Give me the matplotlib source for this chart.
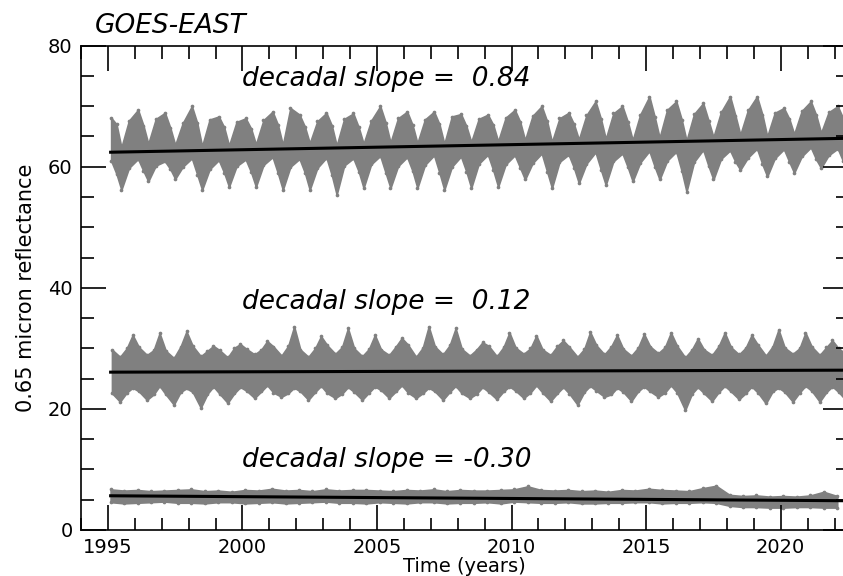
import numpy as np
import matplotlib
matplotlib.use('Agg')
import matplotlib.pyplot as plt
from matplotlib.ticker import MultipleLocator

years = np.arange(1995, 2023)

# upper band (~63): winter peaks, summer troughs
top_peak_hi = [68.1, 69.4, 68.9, 70.0, 68.3, 68.0, 69.1, 68.6, 68.9, 68.8, 70.0, 69.1, 69.1, 68.7,
               68.6, 69.4, 70.0, 68.9, 70.8, 70.0, 71.6, 70.8, 70.5, 71.6, 71.6, 69.7, 70.8, 70.0]
top_peak_lo = [61.0, 61.3, 60.9, 61.4, 61.1, 61.2, 61.6, 61.3, 61.5, 61.4, 61.8, 61.6, 61.9, 61.7,
               62.0, 61.9, 62.2, 62.0, 62.4, 62.2, 62.6, 62.5, 62.8, 62.7, 63.0, 62.9, 63.2, 63.0]
top_fall_hi = [67.0, 66.8, 66.4, 67.2, 66.5, 66.3, 66.9, 66.6, 66.8, 66.5, 67.3, 66.9, 67.0, 66.7,
               66.9, 67.4, 67.5, 67.0, 67.9, 67.4, 68.2, 67.8, 67.6, 68.4, 68.6, 67.9, 68.5, 68.0]
top_fall_lo = [58.8, 59.3, 59.6, 58.7, 59.0, 59.1, 58.9, 59.0, 58.6, 59.2, 59.0, 59.3, 59.0, 59.2,
               59.4, 59.8, 59.2, 59.8, 59.5, 59.9, 60.0, 59.3, 60.1, 60.8, 60.4, 60.8, 61.2, 60.9]
top_trough_hi = [63.2, 63.8, 63.6, 63.4, 63.5, 63.7, 63.6, 63.9, 63.5, 63.8, 64.0, 63.9, 63.8, 64.1,
                 64.2, 64.4, 64.1, 64.5, 64.6, 64.4, 64.8, 64.3, 64.9, 65.3, 65.0, 65.4, 65.6]
top_trough_lo = [56.2, 57.6, 58.0, 56.2, 56.7, 56.7, 56.2, 56.2, 55.4, 56.5, 56.5, 56.5, 56.2, 56.5,
                 56.7, 57.9, 56.5, 57.3, 57.0, 57.6, 57.9, 55.9, 57.9, 59.5, 58.4, 59.0, 59.8]
top_rise_hi = [67.6, 67.9, 67.2, 67.8, 67.4, 67.7, 69.7, 67.5, 67.9, 67.6, 68.0, 67.8, 68.3, 67.9,
               68.1, 68.4, 68.0, 68.5, 68.8, 68.6, 69.4, 68.7, 69.0, 69.3, 68.9, 69.2, 69.0]
top_rise_lo = [59.8, 60.2, 60.0, 59.6, 60.1, 60.3, 60.0, 59.8, 60.2, 60.4, 60.1, 60.3, 60.0, 60.5,
               60.4, 60.6, 60.8, 60.5, 60.9, 60.7, 61.0, 60.8, 61.3, 61.5, 61.4, 61.7, 61.9]

# middle band (~26)
mid_a_hi = [29.8, 30.2, 29.6, 30.4, 29.7, 29.9, 30.3, 29.8, 30.5, 30.0, 29.8, 30.6, 30.3, 29.9,
            30.4, 30.1, 29.8, 30.2, 30.5, 29.9, 30.3, 30.4, 29.8, 30.2, 30.6, 30.1, 30.3, 30.0]
mid_a_lo = [22.6, 22.9, 22.4, 22.8, 22.5, 23.0, 22.7, 22.9, 22.6, 22.8, 23.1, 22.7, 22.9, 22.6,
            22.8, 23.0, 22.7, 22.5, 23.0, 22.8, 22.9, 22.7, 22.6, 22.9, 22.7, 22.8, 23.0, 22.8]
mid_trough_hi = [28.6, 28.9, 28.4, 28.7, 28.5, 29.0, 28.8, 28.6, 29.1, 28.7, 28.9, 28.6, 29.0, 28.8,
                 28.7, 29.1, 28.9, 28.6, 29.0, 28.8, 29.2, 28.5, 28.9, 29.0, 28.8, 29.1, 28.9, 29.0]
mid_trough_lo = [21.2, 21.5, 20.7, 20.2, 21.0, 21.8, 22.0, 21.5, 21.8, 21.5, 21.8, 21.8, 21.5, 21.8,
                 21.6, 21.8, 21.3, 20.7, 22.0, 21.3, 22.0, 19.8, 21.3, 21.6, 20.9, 21.2, 21.2, 21.3]
mid_b_hi = [30.0, 29.7, 30.3, 29.6, 30.1, 29.8, 30.4, 30.0, 30.2, 29.9, 30.3, 30.1, 30.5, 29.8,
            30.2, 30.0, 30.4, 29.9, 30.3, 30.1, 30.2, 29.8, 30.4, 30.1, 30.3, 30.0, 30.2]
mid_b_lo = [22.7, 22.4, 22.8, 22.5, 22.6, 22.9, 22.6, 22.8, 22.5, 22.7, 22.9, 22.6, 22.8, 22.5,
            22.9, 22.7, 22.6, 22.8, 22.4, 22.9, 22.7, 22.5, 22.8, 22.6, 22.9, 22.7, 22.8]
mid_peak_hi = [32.2, 32.5, 32.8, 30.4, 30.7, 31.2, 33.6, 32.0, 33.3, 32.2, 31.7, 33.6, 33.3, 31.0,
               32.6, 32.1, 31.3, 32.7, 32.2, 32.4, 32.6, 31.6, 32.6, 32.2, 33.1, 32.6, 31.3]
mid_peak_lo = [23.5, 23.8, 23.4, 23.7, 23.6, 23.9, 23.5, 23.8, 23.6, 23.7, 23.9, 23.5, 23.8, 23.6,
               23.7, 23.9, 23.6, 23.8, 23.5, 23.7, 23.9, 23.6, 23.8, 23.7, 23.5, 23.8, 23.7]

# lower band (~5.5)
bot_a_hi = [6.7, 6.6, 6.5, 6.7, 6.5, 6.6, 6.8, 6.6, 6.7, 6.6, 6.5, 6.6, 6.7, 6.6,
            6.5, 6.7, 6.6, 6.6, 6.5, 6.6, 6.8, 6.5, 6.9, 5.8, 5.7, 5.6, 5.7, 5.6]
bot_a_lo = [4.6, 4.5, 4.7, 4.5, 4.6, 4.4, 4.6, 4.5, 4.7, 4.5, 4.6, 4.4, 4.6, 4.5,
            4.6, 4.7, 4.5, 4.6, 4.4, 4.5, 4.6, 4.5, 4.6, 4.0, 3.8, 3.7, 3.8, 3.7]
bot_b_hi = [6.5, 6.4, 6.6, 6.4, 6.3, 6.5, 6.5, 6.4, 6.5, 6.6, 6.4, 6.5, 6.4, 6.5,
            6.6, 7.2, 6.5, 6.4, 6.3, 6.5, 6.6, 6.4, 7.3, 5.6, 5.5, 5.5, 6.3]
bot_b_lo = [4.4, 4.6, 4.5, 4.4, 4.6, 4.5, 4.4, 4.6, 4.5, 4.4, 4.5, 4.6, 4.4, 4.5,
            4.4, 4.6, 4.5, 4.4, 4.5, 4.6, 4.4, 4.5, 4.5, 3.8, 3.7, 3.8, 3.7]

# linear fits: value at 1995.1 and decadal slope
trend_start = [62.4, 26.07, 5.65]
slopes = [0.84, 0.12, -0.30]
label_y = [73.3, 36.5, 10.4]


def band(parts):
    # parts: (fraction of year, hi list, lo list)
    t, hi, lo = [], [], []
    for frac, h, l in parts:
        t.append(years[:len(h)] + frac)
        hi.append(h)
        lo.append(l)
    t = np.concatenate(t)
    hi = np.concatenate(hi)
    lo = np.concatenate(lo)
    i = np.argsort(t)
    return t[i], hi[i], lo[i]


bands = [
    band([(0.12, top_peak_hi, top_peak_lo), (0.32, top_fall_hi, top_fall_lo),
          (0.50, top_trough_hi, top_trough_lo), (0.78, top_rise_hi, top_rise_lo)]),
    band([(0.15, mid_a_hi, mid_a_lo), (0.45, mid_trough_hi, mid_trough_lo),
          (0.70, mid_b_hi, mid_b_lo), (0.92, mid_peak_hi, mid_peak_lo)]),
    band([(0.10, bot_a_hi, bot_a_lo), (0.60, bot_b_hi, bot_b_lo)]),
]

fig = plt.figure(figsize=(8.43, 5.76), dpi=100)
ax = fig.add_axes([0.0961, 0.0799, 0.9098, 0.8408])

for t, hi, lo in bands:
    ax.fill_between(t, lo, hi, color='#808080', edgecolor='#808080', lw=1.2)
    ax.scatter(t, hi, s=7, color='#808080', lw=0)
    ax.scatter(t, lo, s=7, color='#808080', lw=0)

tt = np.array([1995.1, 2022.5])
for y0, s, ly in zip(trend_start, slopes, label_y):
    ax.plot(tt, y0 + s * (tt - tt[0]) / 10.0, color='black', lw=2.2)
    ax.text(2000, ly, 'decadal slope = %5.2f' % s, fontsize=19, fontstyle='italic')

ax.set_xlim(1994, 2022.5)
ax.set_ylim(0, 80)
ax.xaxis.set_major_locator(MultipleLocator(5))
ax.xaxis.set_minor_locator(MultipleLocator(1))
ax.yaxis.set_major_locator(MultipleLocator(20))
ax.yaxis.set_minor_locator(MultipleLocator(5))
ax.tick_params(which='both', direction='in', top=True, right=True, width=1.2, labelsize=14, pad=6)
ax.tick_params(which='major', length=18)
ax.tick_params(which='minor', length=9)
for sp in ax.spines.values():
    sp.set_linewidth(1.2)

ax.set_xlabel('Time (years)', fontsize=14, labelpad=0)
ax.set_ylabel('0.65 micron reflectance', fontsize=15, labelpad=9)
fig.text(0.113, 0.942, 'GOES-EAST', fontsize=19, fontstyle='italic')

fig.savefig('out.png', dpi=100)
